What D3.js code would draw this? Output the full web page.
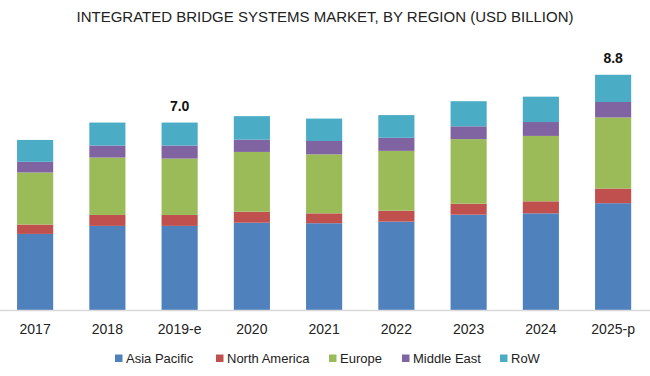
<!DOCTYPE html>
<html><head><meta charset="utf-8">
<script src="https://cdn.jsdelivr.net/npm/d3@7"></script>
<style>body{margin:0;background:#fff}svg{display:block}</style>
</head><body>
<script>
const categories = ["2017","2018","2019-e","2020","2021","2022","2023","2024","2025-p"];
const seriesNames = ["Asia Pacific","North America","Europe","Middle East","RoW"];
const asiaPacific = [2.85,3.15,3.15,3.27,3.25,3.31,3.57,3.62,4.00];
const northAmerica = [0.35,0.41,0.41,0.41,0.37,0.41,0.41,0.45,0.55];
const europe = [1.95,2.15,2.11,2.24,2.21,2.24,2.42,2.45,2.66];
const middleEast = [0.40,0.45,0.49,0.46,0.50,0.49,0.48,0.52,0.58];
const row = [0.82,0.86,0.86,0.88,0.84,0.85,0.94,0.95,1.02];
const totalLabels = {"2019-e":"7.0","2025-p":"8.8"};
const colors = ["#4f81bd","#c0504d","#9bbb59","#8064a2","#4bacc6"];

const W=650,H=376;
const FONT="Liberation Sans, Arial, sans-serif";
const svg=d3.select("body").append("svg").attr("width",W).attr("height",H);
const seriesVals=[asiaPacific,northAmerica,europe,middleEast,row];
const data=categories.map((c,i)=>{const o={cat:c};seriesNames.forEach((s,j)=>o[s]=seriesVals[j][i]);return o;});
const stacked=d3.stack().keys(seriesNames)(data);

const x=d3.scaleBand().domain(categories).range([-1,649.25]).paddingInner(0.5).paddingOuter(0.25);
const y=d3.scaleLinear().domain([0,10]).range([310,43]);

svg.append("text").attr("x",325).attr("y",22).attr("text-anchor","middle")
 .style("font-family",FONT).style("font-size","15px").attr("fill","#222")
 .text("INTEGRATED BRIDGE SYSTEMS MARKET, BY REGION (USD BILLION)");

stacked.forEach((s,j)=>{
  svg.append("g").attr("fill",colors[j]).selectAll("rect").data(s).join("rect")
   .attr("x",d=>x(d.data.cat)).attr("width",x.bandwidth())
   .attr("y",d=>y(d[1])).attr("height",d=>y(d[0])-y(d[1]));
});

const axis=svg.append("g").attr("transform","translate(0,310)").call(d3.axisBottom(x).tickSize(0).tickPadding(14));
axis.select(".domain").remove();
svg.append("line").attr("x1",0).attr("x2",W).attr("y1",310.5).attr("y2",310.5).attr("stroke","#d9d9d9").attr("stroke-width",1.5);
axis.selectAll("text").style("font-family",FONT).style("font-size","14px").attr("fill","#222");

const topSeries=stacked[stacked.length-1];
svg.append("g").selectAll("text").data(topSeries.filter(d=>totalLabels[d.data.cat])).join("text")
 .attr("x",d=>x(d.data.cat)+x.bandwidth()/2).attr("y",d=>y(d[1])-12)
 .attr("text-anchor","middle").style("font-family",FONT)
 .style("font-size","14px").style("font-weight","bold").attr("fill","#111")
 .text(d=>totalLabels[d.data.cat]);

const legX=[115,216,329,402,500];
const leg=svg.append("g").selectAll("g").data(seriesNames).join("g")
 .attr("transform",(d,i)=>`translate(${legX[i]},358)`);
leg.append("rect").attr("x",0).attr("y",-3.5).attr("width",7.5).attr("height",7.5).attr("fill",(d,i)=>colors[i]);
leg.append("text").attr("x",11).attr("y",5).style("font-family",FONT)
 .style("font-size","13px").attr("fill","#222").text(d=>d);
</script>
</body></html>
